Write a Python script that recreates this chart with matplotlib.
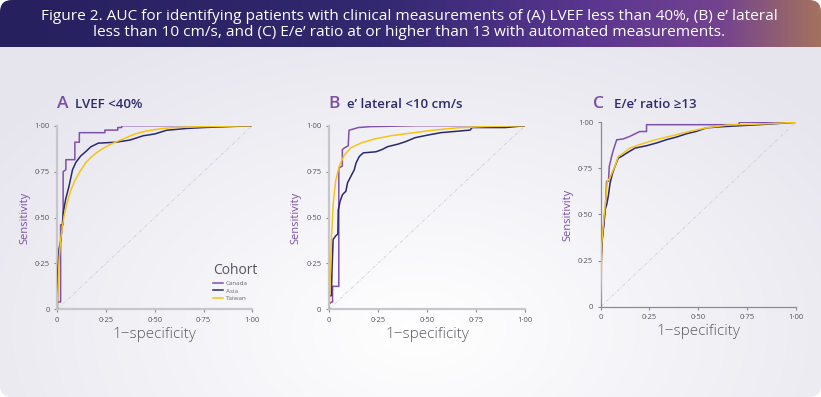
"""
ROC curves for automated echo measurements, three cohorts per panel
"""
import numpy as np
import matplotlib.pyplot as plt
from matplotlib.patches import FancyBboxPatch
from matplotlib.colors import LinearSegmentedColormap
from matplotlib.ticker import FuncFormatter

plt.rcParams['font.family'] = ['Open Sans', 'DejaVu Sans']

# ---- data (fpr, tpr) ----
cohorts = ['Canada', 'Asia', 'Taiwan']

a_canada_fpr = [0, 0, 0.017, 0.017, 0.03, 0.03, 0.044, 0.044, 0.09, 0.09, 0.113, 0.113, 0.244, 0.244, 0.31, 0.31, 0.33, 0.33, 1]
a_canada_tpr = [0, 0.04, 0.04, 0.46, 0.46, 0.75, 0.76, 0.815, 0.815, 0.91, 0.91, 0.962, 0.962, 0.976, 0.976, 0.99, 0.99, 1.0, 1]
a_asia_fpr = [0, 0.003, 0.009, 0.017, 0.025, 0.031, 0.043, 0.06, 0.07, 0.078, 0.095, 0.12, 0.147, 0.172, 0.21, 0.3, 0.373, 0.44, 0.5, 0.56, 0.663, 0.75, 1]
a_asia_tpr = [0, 0.2, 0.33, 0.37, 0.45, 0.53, 0.6, 0.67, 0.72, 0.76, 0.8, 0.835, 0.86, 0.885, 0.905, 0.91, 0.922, 0.945, 0.955, 0.975, 0.985, 0.99, 1]
a_taiwan_fpr = [0, 0.003, 0.009, 0.017, 0.026, 0.035, 0.05, 0.07, 0.09, 0.116, 0.147, 0.17, 0.2, 0.236, 0.27, 0.304, 0.353, 0.4, 0.46, 0.54, 0.6, 0.75, 1]
a_taiwan_tpr = [0, 0.1, 0.27, 0.38, 0.45, 0.51, 0.58, 0.65, 0.7, 0.75, 0.8, 0.825, 0.852, 0.877, 0.897, 0.913, 0.935, 0.955, 0.972, 0.985, 0.99, 0.995, 1]

b_canada_fpr = [0, 0, 0.015, 0.018, 0.018, 0.05, 0.05, 0.068, 0.068, 0.08, 0.098, 0.102, 0.15, 0.21, 0.45, 1]
b_canada_tpr = [0, 0.03, 0.04, 0.04, 0.125, 0.125, 0.77, 0.78, 0.87, 0.88, 0.89, 0.975, 0.99, 0.995, 1.0, 1]
b_asia_fpr = [0, 0, 0.012, 0.015, 0.021, 0.034, 0.045, 0.047, 0.057, 0.069, 0.086, 0.095, 0.112, 0.129, 0.138, 0.155, 0.175, 0.24, 0.27, 0.3, 0.353, 0.39, 0.44, 0.5, 0.57, 0.72, 0.73, 0.9, 1]
b_asia_tpr = [0, 0.07, 0.075, 0.2, 0.38, 0.4, 0.41, 0.54, 0.59, 0.625, 0.643, 0.69, 0.725, 0.76, 0.797, 0.833, 0.852, 0.858, 0.87, 0.886, 0.9, 0.913, 0.935, 0.948, 0.962, 0.976, 0.99, 0.99, 1]
b_taiwan_fpr = [0, 0.002, 0.005, 0.012, 0.022, 0.034, 0.052, 0.078, 0.112, 0.164, 0.233, 0.32, 0.42, 0.526, 0.65, 0.8, 1]
b_taiwan_tpr = [0, 0.04, 0.13, 0.38, 0.58, 0.7, 0.78, 0.84, 0.88, 0.906, 0.928, 0.946, 0.96, 0.975, 0.988, 0.996, 1]

c_canada_fpr = [0, 0, 0.004, 0.008, 0.017, 0.025, 0.03, 0.04, 0.044, 0.056, 0.065, 0.082, 0.116, 0.15, 0.2, 0.235, 0.235, 0.71, 0.71, 1]
c_canada_tpr = [0, 0.25, 0.29, 0.38, 0.45, 0.55, 0.68, 0.68, 0.76, 0.815, 0.85, 0.905, 0.91, 0.924, 0.95, 0.95, 0.987, 0.987, 1.0, 1]
c_asia_fpr = [0, 0.002, 0.006, 0.01, 0.016, 0.022, 0.031, 0.039, 0.048, 0.061, 0.073, 0.09, 0.107, 0.133, 0.176, 0.235, 0.287, 0.338, 0.389, 0.44, 0.491, 0.543, 0.62, 0.86, 1]
c_asia_tpr = [0, 0.2, 0.35, 0.38, 0.45, 0.525, 0.555, 0.6, 0.67, 0.725, 0.76, 0.806, 0.815, 0.833, 0.86, 0.873, 0.888, 0.906, 0.92, 0.938, 0.951, 0.97, 0.976, 0.99, 1]
c_taiwan_fpr = [0, 0.002, 0.005, 0.017, 0.026, 0.034, 0.048, 0.061, 0.073, 0.09, 0.116, 0.15, 0.2, 0.27, 0.32, 0.389, 0.457, 0.543, 0.65, 0.85, 1]
c_taiwan_tpr = [0, 0.1, 0.34, 0.49, 0.58, 0.68, 0.7, 0.734, 0.76, 0.815, 0.833, 0.86, 0.879, 0.902, 0.915, 0.933, 0.951, 0.97, 0.985, 0.992, 1]

ticks = [0, 0.25, 0.5, 0.75, 1.0]

# colours
PURPLE = '#7f50ad'
NAVY = '#2b286c'
YELLOW = '#f4c514'
HEAD_PURPLE = '#7a4ea6'
HEAD_NAVY = '#2e2b6d'
cohort_colors = [PURPLE, NAVY, YELLOW]

W, H = 821, 397
fig = plt.figure(figsize=(W / 100, H / 100), dpi=100)
fig.patch.set_facecolor('white')

# background card in pixel coordinates
bg = fig.add_axes([0, 0, 1, 1])
bg.set_xlim(0, W)
bg.set_ylim(H, 0)
bg.axis('off')
card = FancyBboxPatch((0, 0), W, H, boxstyle='round,pad=0,rounding_size=12',
                      transform=bg.transData, facecolor='none', edgecolor='none')
bg.add_patch(card)

yy, xx = np.mgrid[0:H, 0:W]
t = np.clip(np.sqrt(((xx - 420) / 520) ** 2 + ((yy - 330) / 330) ** 2), 0, 1)
light = np.array([1.0, 1.0, 1.0])
edge = np.array([0.905, 0.9, 0.935])
img = light * (1 - t[..., None]) + edge * t[..., None]
im = bg.imshow(img, extent=(0, W, H, 0), aspect='auto', zorder=0)
im.set_clip_path(card)

banner_cmap = LinearSegmentedColormap.from_list('banner', [
    (0.0, '#26205e'), (0.45, '#31286f'), (0.72, '#5a3690'),
    (0.88, '#74438f'), (1.0, '#a3715f')])
bim = bg.imshow(np.linspace(0, 1, W)[None, :], cmap=banner_cmap,
                extent=(0, W, 47, 0), aspect='auto', zorder=1)
bim.set_clip_path(card)

bg.text(409, 16, 'Figure 2. AUC for identifying patients with clinical measurements of '
        '(A) LVEF less than 40%, (B) e\u2019 lateral',
        ha='center', va='center', color='white', fontsize=11.1, zorder=2)
bg.text(409, 33, 'less than 10 cm/s, and (C) E/e\u2019 ratio at or higher than 13 '
        'with automated measurements.',
        ha='center', va='center', color='white', fontsize=11.1, zorder=2)


def fmt_tick(v, pos):
    if v == 0:
        return '0'
    return f'{v:.2f}'.replace('.', '\u00b7')


def roc_panel(rect, curves, spine_color, spine_width):
    ax = fig.add_axes(rect)
    ax.patch.set_alpha(0)
    ax.plot([0, 1], [0, 1], color='#cfcfd6', linewidth=0.6, linestyle=(0, (4, 2, 1, 2)), zorder=1)
    for (fpr, tpr), name, col in zip(curves, cohorts, cohort_colors):
        ax.plot(fpr, tpr, color=col, linewidth=1.1, label=name, zorder=3)
    ax.set_xlim(0, 1)
    ax.set_ylim(0, 1)
    ax.set_xticks(ticks)
    ax.set_yticks(ticks)
    ax.xaxis.set_major_formatter(FuncFormatter(fmt_tick))
    ax.yaxis.set_major_formatter(FuncFormatter(fmt_tick))
    ax.tick_params(labelsize=5.5, colors='#8a8a92', labelcolor='#555560',
                   length=2.5, width=0.8, pad=3)
    for side in ['top', 'right']:
        ax.spines[side].set_visible(False)
    for side in ['left', 'bottom']:
        ax.spines[side].set_color(spine_color)
        ax.spines[side].set_linewidth(spine_width)
    ax.set_xlabel('1\u2212specificity', fontsize=11, color='#5a5a62',
                  fontweight='light', labelpad=2)
    ax.set_ylabel('Sensitivity', fontsize=8, color=HEAD_PURPLE, labelpad=3)
    return ax


ax_a = roc_panel([57.3 / W, 1 - 309.3 / H, 195 / W, 183.6 / H],
                 [(a_canada_fpr, a_canada_tpr), (a_asia_fpr, a_asia_tpr),
                  (a_taiwan_fpr, a_taiwan_tpr)], '#c6c6cc', 1.6)
ax_b = roc_panel([329 / W, 1 - 309.3 / H, 196 / W, 183.6 / H],
                 [(b_canada_fpr, b_canada_tpr), (b_asia_fpr, b_asia_tpr),
                  (b_taiwan_fpr, b_taiwan_tpr)], '#c6c6cc', 1.6)
ax_c = roc_panel([600.7 / W, 1 - 306.7 / H, 195 / W, 184.4 / H],
                 [(c_canada_fpr, c_canada_tpr), (c_asia_fpr, c_asia_tpr),
                  (c_taiwan_fpr, c_taiwan_tpr)], '#8c8a98', 0.9)

leg = ax_a.legend(title='Cohort', loc='upper left', bbox_to_anchor=(0.8, 0.25),
                  frameon=False, fontsize=4.5, title_fontsize=10,
                  handlelength=1.5, handletextpad=0.5, labelspacing=0.35,
                  borderaxespad=0, borderpad=0)
leg._legend_box.align = 'left'
leg.get_title().set_color('#55555e')
for txt in leg.get_texts():
    txt.set_color('#66666e')

# panel headings
for x_letter, x_text, y, letter, text in [
        (57, 75, 104, 'A', 'LVEF <40%'),
        (328, 347, 104, 'B', 'e\u2019 lateral <10 cm/s'),
        (593, 614, 104, 'C', 'E/e\u2019 ratio \u226513')]:
    bg.text(x_letter, y, letter, color=HEAD_PURPLE, fontsize=12.5, fontweight='semibold',
            va='center', zorder=2)
    bg.text(x_text, y + 1, text, color=HEAD_NAVY, fontsize=9.5, fontweight='semibold',
            va='center', zorder=2)

fig.savefig('out.png', dpi=100, facecolor='white')
plt.close(fig)
